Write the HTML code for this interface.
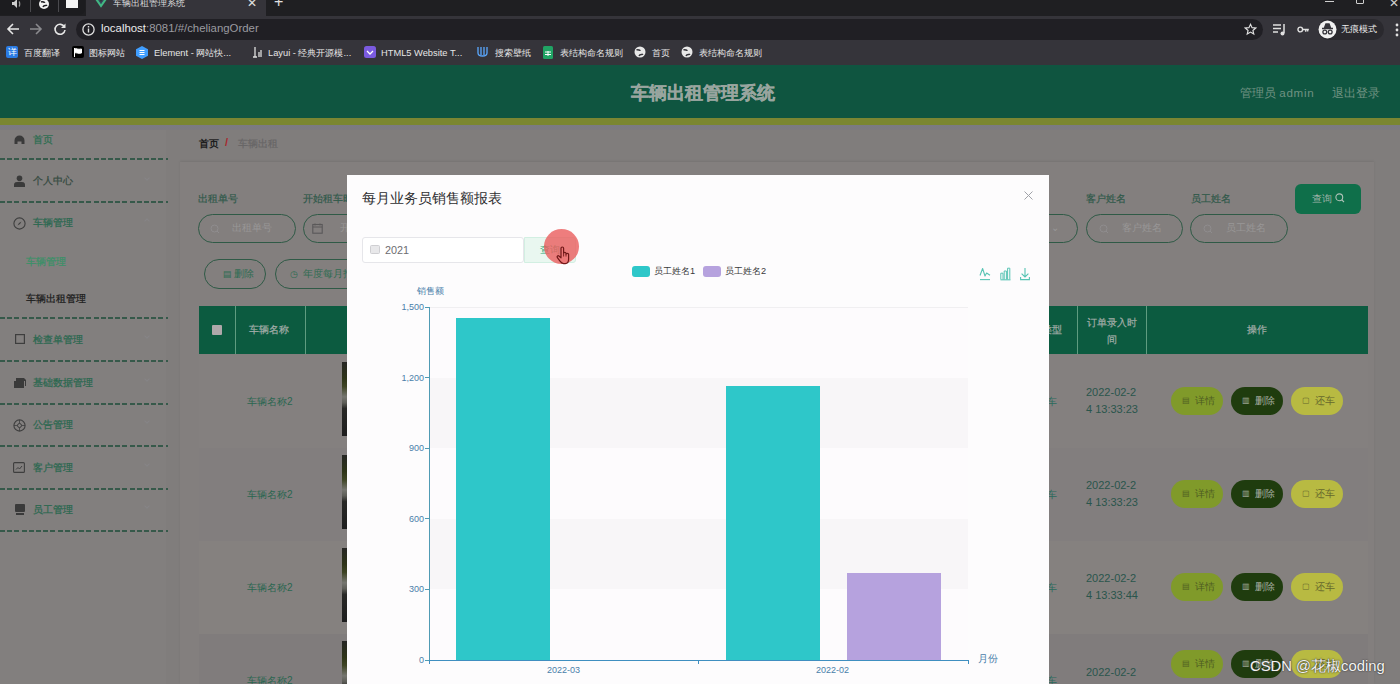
<!DOCTYPE html>
<html><head><meta charset="utf-8">
<style>
*{margin:0;padding:0;box-sizing:border-box}
html,body{width:1400px;height:684px;overflow:hidden;background:#807d7c;font-family:"Liberation Sans",sans-serif}
.a{position:absolute;white-space:nowrap}
#tabs{position:absolute;left:0;top:0;width:1400px;height:16px;background:#1f1f22}
#tool{position:absolute;left:0;top:16px;width:1400px;height:49px;background:#35343a}
#omni{position:absolute;left:76px;top:19px;width:1187px;height:21px;border-radius:11px;background:#201f24}
#hdr{position:absolute;left:0;top:65px;width:1400px;height:53px;background:#0f5540}
#hline{position:absolute;left:0;top:118px;width:1400px;height:7px;background:#7a8632}
#side{position:absolute;left:0;top:125px;width:166px;height:559px;background:#827f7e}
.dash{position:absolute;left:0;width:168px;height:2px;background:repeating-linear-gradient(90deg,#36594a 0 5px,transparent 5px 7.2px)}
.chev{position:absolute;left:145px;width:4px;height:4px;border-right:1px solid #878587;border-bottom:1px solid #878587;transform:rotate(45deg)}
.chev.up{transform:rotate(-135deg)}
.bm{top:47.5px;font-size:9.3px;line-height:11px;color:#e6e6e6}
.lbl{position:absolute;top:193px;font-size:10px;line-height:12px;color:#30594a;-webkit-text-stroke:0.2px currentColor;white-space:nowrap}
.inp{position:absolute;top:214px;height:29px;border:1.3px solid #2f5a46;border-radius:15px}
.inp .ph{position:absolute;top:7px;font-size:10px;line-height:12px;color:#999797;white-space:nowrap}
.inp .ico{position:absolute;left:11px;top:9px}
.btn2{position:absolute;top:259px;height:30px;border:1.3px solid #2f5a46;border-radius:15px;font-size:10px;line-height:28px;color:#2f6c52;white-space:nowrap}
.vl{position:absolute;top:306px;width:1px;height:48px;background:#5f9c80}
.th{position:absolute;font-size:10px;line-height:12px;color:#a2ada8;white-space:nowrap;-webkit-text-stroke:0.2px currentColor}
.td{position:absolute;font-size:10px;line-height:12px;color:#2c6a5c;white-space:nowrap}
.ob{position:absolute;width:52px;height:28px;border-radius:14px;font-size:9.5px;line-height:28px;white-space:nowrap;padding-left:24px}
.ob .oi{position:absolute;left:11px;font-size:8px}
.lg{top:265px;font-size:9.2px;line-height:12px;color:#3a3a3a}
.ax{font-size:9px;line-height:12px;color:#4a80aa;white-space:nowrap}
.mi{position:absolute;left:33px;font-size:10px;line-height:12px;white-space:nowrap;-webkit-text-stroke:0.25px currentColor}
</style></head><body>
<div id="tabs">
 <div class="a" style="left:0;top:0;width:85px;height:15px;background:#1c1c1f;border-radius:0 0 6px 0"></div>
 <svg class="a" style="left:12px;top:0" width="10" height="8" viewBox="0 0 10 8"><path d="M0 2h2l3-3v9l-3-3H0z" fill="#cfcfcf"/><path d="M7 1.5c1 1 1 4 0 5" stroke="#9a9a9a" stroke-width="1.2" fill="none"/></svg>
 <div class="a" style="left:30px;top:0;width:1px;height:12px;background:#4a4a4e"></div>
 <svg class="a" style="left:38px;top:-2px" width="12" height="12" viewBox="0 0 12 12"><circle cx="6" cy="6" r="5" fill="#f2f2f2"/><path d="M3 4c2-1 3 1 4 0M5 9c1-2 3-1 4-2" stroke="#1c1c1f" stroke-width="1.6" fill="none"/></svg>
 <div class="a" style="left:58px;top:0;width:1px;height:12px;background:#4a4a4e"></div>
 <div class="a" style="left:66px;top:0;width:12px;height:8px;background:#f3f3f3"></div>
 <div class="a" style="left:86px;top:0;width:180px;height:16px;background:#35343a;border-radius:0 0 0 0"></div>
 <svg class="a" style="left:95px;top:-1px" width="12" height="9" viewBox="0 0 14 10"><path d="M0 0h4l3 5 3-5h4L7 10z" fill="#41b883"/><path d="M3 0h2l2 3.5L9 0h2L7 6z" fill="#35495e"/></svg>
 <div class="a" style="left:113px;top:-3px;font-size:9px;color:#dcdcdc">车辆出租管理系统</div>
 <div class="a" style="left:247px;top:-4px;font-size:12px;color:#e0e0e0">✕</div>
 <div class="a" style="left:274px;top:-7px;font-size:16px;color:#e0e0e0">+</div>
 <div class="a" style="left:1325px;top:1px;width:9px;height:1px;background:#cfcfcf"></div>
 <div class="a" style="left:1356px;top:-2px;width:8px;height:6px;border:1px solid #cfcfcf;border-radius:0 0 1px 1px"></div>
 <div class="a" style="left:1389px;top:-4px;font-size:12px;color:#cfcfcf">✕</div>
</div>
<div id="tool"></div>
<div id="omni"></div>
<svg class="a" style="left:6px;top:22px" width="14" height="14" viewBox="0 0 14 14"><path d="M13 7H2M7 2L2 7l5 5" stroke="#e6e6e6" stroke-width="1.6" fill="none"/></svg>
<svg class="a" style="left:29px;top:22px" width="14" height="14" viewBox="0 0 14 14"><path d="M1 7h11M7 2l5 5-5 5" stroke="#8a8a8e" stroke-width="1.6" fill="none"/></svg>
<svg class="a" style="left:53px;top:22px" width="14" height="14" viewBox="0 0 14 14"><path d="M11.5 5A5 5 0 1 0 12 8" stroke="#e6e6e6" stroke-width="1.6" fill="none"/><path d="M12.5 1.5v4.5H8z" fill="#e6e6e6"/></svg>
<svg class="a" style="left:82px;top:23px" width="13" height="13" viewBox="0 0 13 13"><circle cx="6.5" cy="6.5" r="5.6" stroke="#e0e0e0" stroke-width="1.3" fill="none"/><rect x="5.8" y="5.5" width="1.4" height="4" fill="#e0e0e0"/><rect x="5.8" y="3" width="1.4" height="1.5" fill="#e0e0e0"/></svg>
<div class="a" style="left:101px;top:22px;font-size:11.4px;color:#9b9ba0"><span style="color:#ececec">localhost</span>:8081/#/cheliangOrder</div>
<svg class="a" style="left:1244px;top:23px" width="13" height="13" viewBox="0 0 15 15"><path d="M7.5 1.5l1.8 3.9 4.2.4-3.2 2.8 1 4.1-3.8-2.2-3.8 2.2 1-4.1L1.5 5.8l4.2-.4z" stroke="#e0e0e0" stroke-width="1.3" fill="none"/></svg>
<svg class="a" style="left:1273px;top:23px" width="14" height="13" viewBox="0 0 14 13"><path d="M0 2h8M0 5.5h8M0 9h5" stroke="#e0e0e0" stroke-width="1.5"/><path d="M11 1v9" stroke="#e0e0e0" stroke-width="1.5"/><circle cx="9.5" cy="10.5" r="2" fill="#e0e0e0"/></svg>
<svg class="a" style="left:1297px;top:26px" width="12" height="7" viewBox="0 0 15 9"><circle cx="4" cy="4.5" r="3" stroke="#e0e0e0" stroke-width="1.8" fill="none"/><path d="M7 4.5h8M11 4.5v3M13.5 4.5v2.5" stroke="#e0e0e0" stroke-width="1.8"/></svg>
<div class="a" style="left:1318px;top:19px;width:66px;height:21px;border-radius:11px;background:#2a292e"></div>
<svg class="a" style="left:1318px;top:20px" width="19" height="19" viewBox="0 0 19 19"><circle cx="9.5" cy="9.5" r="9" fill="#f0f0f0"/><path d="M4 8.5h11M6.5 8L8 4h3l1.5 4" stroke="#35343a" stroke-width="1.5" fill="#35343a"/><circle cx="6.8" cy="12" r="1.9" stroke="#35343a" stroke-width="1.3" fill="none"/><circle cx="12.2" cy="12" r="1.9" stroke="#35343a" stroke-width="1.3" fill="none"/></svg>
<div class="a" style="left:1341px;top:23px;font-size:9px;color:#ececec">无痕模式</div>
<svg class="a" style="left:1395px;top:23px" width="4" height="14" viewBox="0 0 4 14"><circle cx="2" cy="2" r="1.4" fill="#e0e0e0"/><circle cx="2" cy="7" r="1.4" fill="#e0e0e0"/><circle cx="2" cy="12" r="1.4" fill="#e0e0e0"/></svg>
<!-- bookmarks -->
<div class="a" style="left:6px;top:46px;width:12px;height:12px;background:#2a7be4;border-radius:2px;color:#fff;font-size:9px;line-height:12px;text-align:center">详</div>
<div class="a bm" style="left:24px">百度翻译</div>
<svg class="a" style="left:72px;top:46px" width="12" height="12" viewBox="0 0 12 12"><rect width="12" height="12" rx="2" fill="#000"/><path d="M2.5 2v9M2.5 3c2-1 3 1 7 0v4c-4 1-5-1-7 0" fill="#fff" stroke="#fff" stroke-width="1"/></svg>
<div class="a bm" style="left:89px">图标网站</div>
<svg class="a" style="left:136px;top:46px" width="12" height="13" viewBox="0 0 12 13"><path d="M6 0l6 3.2v6.6L6 13 0 9.8V3.2z" fill="#409eff"/><path d="M3.5 4.5h5M3.5 6.5h5M3.5 8.5h5" stroke="#fff" stroke-width="1"/></svg>
<div class="a bm" style="left:154px">Element - 网站快...</div>
<svg class="a" style="left:252px;top:46px" width="11" height="12" viewBox="0 0 11 12"><path d="M3 1v10M1 11h4M7 6v5M9 4v7" stroke="#ddd" stroke-width="1.3"/></svg>
<div class="a bm" style="left:268px">Layui - 经典开源模...</div>
<svg class="a" style="left:364px;top:46px" width="12" height="12" viewBox="0 0 12 12"><rect width="12" height="12" rx="2.5" fill="#7b5be0"/><path d="M3 5l3 3 3-3" stroke="#fff" stroke-width="1.3" fill="none"/></svg>
<div class="a bm" style="left:381px">HTML5 Website T...</div>
<svg class="a" style="left:477px;top:46px" width="11" height="12" viewBox="0 0 11 12"><path d="M1 1v6c0 4 9 4 9 0V1M4 1v8M7 1v8" stroke="#5aa8ff" stroke-width="1.3" fill="none"/></svg>
<div class="a bm" style="left:495px">搜索壁纸</div>
<svg class="a" style="left:543px;top:46px" width="10" height="13" viewBox="0 0 10 13"><rect width="10" height="13" rx="1.5" fill="#20a464"/><path d="M2 6h6M2 8.5h6M5 5v5" stroke="#fff" stroke-width="1"/></svg>
<div class="a bm" style="left:560px">表结构命名规则</div>
<svg class="a" style="left:634px;top:46px" width="12" height="12" viewBox="0 0 12 12"><circle cx="6" cy="6" r="5.5" fill="#e8e8e8"/><path d="M2.5 4c2-1 3 1 4 0M5 10c1-2 3-1 4-2" stroke="#35343a" stroke-width="1.5" fill="none"/></svg>
<div class="a bm" style="left:652px">首页</div>
<svg class="a" style="left:681px;top:46px" width="12" height="12" viewBox="0 0 12 12"><circle cx="6" cy="6" r="5.5" fill="#e8e8e8"/><path d="M2.5 4c2-1 3 1 4 0M5 10c1-2 3-1 4-2" stroke="#35343a" stroke-width="1.5" fill="none"/></svg>
<div class="a bm" style="left:699px">表结构命名规则</div>
<div id="hdr">
 <div class="a" style="left:631px;top:16px;font-size:18px;font-weight:bold;color:#98a59f;-webkit-text-stroke:0.3px #98a59f">车辆出租管理系统</div>
 <div class="a" style="left:1240px;top:21px;font-size:11.6px;color:#6f9282">管理员 <span style="letter-spacing:0.7px">admin</span></div>
 <div class="a" style="left:1332px;top:21px;font-size:11.6px;color:#6f9282">退出登录</div>
</div>
<div id="hline"></div>
<div id="side">
 <svg class="a" style="left:14px;top:10px" width="11" height="9" viewBox="0 0 11 9"><path d="M0.5 9V5.5A5 5 0 0 1 10.5 5.5V9H7.5V6.5H3.5V9z" fill="#3a3a3a"/></svg>
 <div class="mi" style="top:9px;color:#2f6e52">首页</div>
 <div class="dash" style="top:33px"></div>
 <svg class="a" style="left:14px;top:50px" width="11" height="12" viewBox="0 0 11 12"><circle cx="5.5" cy="3.2" r="2.8" fill="#3a3a3a"/><path d="M0 12V9.5C0 7.5 2 6.8 5.5 6.8S11 7.5 11 9.5V12z" fill="#3a3a3a"/></svg>
 <div class="mi" style="top:50px;color:#354a40">个人中心</div>
 <div class="chev" style="top:51px"></div>
 <div class="dash" style="top:76px"></div>
 <svg class="a" style="left:13px;top:92px" width="13" height="13" viewBox="0 0 13 13"><circle cx="6.5" cy="6.5" r="5.6" stroke="#3e3e3e" stroke-width="1.1" fill="none"/><path d="M8.5 4.5L7 7 4.5 8.5 6 6z" fill="#3e3e3e"/></svg>
 <div class="mi" style="top:92px;color:#2b6850">车辆管理</div>
 <div class="chev up" style="top:94px"></div>
 <div class="mi" style="left:26px;top:131px;color:#3b9068">车辆管理</div>
 <div class="mi" style="left:26px;top:168px;color:#1c1c1c">车辆出租管理</div>
 <div class="dash" style="top:192px"></div>
 <svg class="a" style="left:15px;top:209px" width="10" height="10" viewBox="0 0 10 10"><rect x="0.6" y="0.6" width="8.8" height="8.8" stroke="#3e3e3e" stroke-width="1.2" fill="none"/></svg>
 <div class="mi" style="top:209px;color:#2b6850">检查单管理</div>
 <div class="chev" style="top:209px"></div>
 <div class="dash" style="top:235px"></div>
 <svg class="a" style="left:14px;top:253px" width="12" height="10" viewBox="0 0 12 10"><path d="M0 3h10v7H0zM2 0h8l2 2v6h-1V3H2z" fill="#3a3a3a"/></svg>
 <div class="mi" style="top:252px;color:#2b6850">基础数据管理</div>
 <div class="chev" style="top:252px"></div>
 <div class="dash" style="top:278px"></div>
 <svg class="a" style="left:13px;top:294px" width="13" height="13" viewBox="0 0 13 13"><circle cx="6.5" cy="6.5" r="5.6" stroke="#3e3e3e" stroke-width="1.1" fill="none"/><circle cx="6.5" cy="6.5" r="2" stroke="#3e3e3e" stroke-width="1" fill="none"/><path d="M6.5 1v3.5M6.5 8.5V12M1 6.5h3.5M8.5 6.5H12" stroke="#3e3e3e" stroke-width="0.8"/></svg>
 <div class="mi" style="top:294px;color:#2b6850">公告管理</div>
 <div class="chev" style="top:294px"></div>
 <div class="dash" style="top:320px"></div>
 <svg class="a" style="left:13px;top:337px" width="12" height="11" viewBox="0 0 12 11"><rect x="0.6" y="0.6" width="10.8" height="9.8" rx="1" stroke="#3e3e3e" stroke-width="1.1" fill="none"/><path d="M3 7.5l2-2 1.5 1.5L9 4" stroke="#3e3e3e" stroke-width="1" fill="none"/></svg>
 <div class="mi" style="top:337px;color:#2b6850">客户管理</div>
 <div class="chev" style="top:337px"></div>
 <div class="dash" style="top:363px"></div>
 <svg class="a" style="left:15px;top:379px" width="10" height="11" viewBox="0 0 10 11"><rect x="0" y="0" width="10" height="8" rx="1" fill="#3a3a3a"/><rect x="1" y="9" width="8" height="2" fill="#3a3a3a"/></svg>
 <div class="mi" style="top:379px;color:#2b6850">员工管理</div>
 <div class="chev" style="top:379px"></div>
 <div class="dash" style="top:405px"></div>
</div>
<!-- content -->
<div class="a" style="left:180px;top:162px;width:1194px;height:522px;background:#837f7e;box-shadow:0 -1px 2px rgba(0,0,0,0.08)"></div>
<div class="a" style="left:0;top:125px;width:1400px;height:5px;background:linear-gradient(#7a7a84,#7d7b7e)"></div>
<div class="a" style="left:199px;top:137px;font-size:10px;font-weight:bold;color:#1e1e1e">首页</div>
<div class="a" style="left:225px;top:136px;font-size:11px;font-weight:bold;color:#a8282e">/</div>
<div class="a" style="left:238px;top:137px;font-size:10px;color:#676566;-webkit-text-stroke:0.2px #676566">车辆出租</div>
<!-- form labels -->
<div class="lbl" style="left:198px">出租单号</div>
<div class="lbl" style="left:303px">开始租车时间</div>
<div class="lbl" style="left:1086px">客户姓名</div>
<div class="lbl" style="left:1191px">员工姓名</div>
<div class="inp" style="left:198px;width:98px"><svg class="ico" width="10" height="10" viewBox="0 0 10 10"><circle cx="4.5" cy="4.5" r="3.5" stroke="#8f8d8e" stroke-width="1" fill="none"/><path d="M7 7l2 2" stroke="#8f8d8e" stroke-width="1"/></svg><span class="ph" style="left:33px">出租单号</span></div>
<div class="inp" style="left:303px;width:98px"><svg class="ico" style="left:8px;top:8px" width="11" height="11" viewBox="0 0 11 11"><rect x="0.8" y="1.5" width="9.4" height="8.7" stroke="#5a5859" stroke-width="1.1" fill="none"/><path d="M0.8 4h9.4M3 0.5v2M8 0.5v2" stroke="#5a5859" stroke-width="1"/></svg><span class="ph" style="left:36px">开始租车时间</span></div>
<div class="inp" style="left:980px;width:98px"><span class="ph" style="left:70px">⌄</span></div>
<div class="inp" style="left:1086px;width:97px"><svg class="ico" style="left:12px" width="10" height="10" viewBox="0 0 10 10"><circle cx="4.5" cy="4.5" r="3.5" stroke="#8f8d8e" stroke-width="1" fill="none"/><path d="M7 7l2 2" stroke="#8f8d8e" stroke-width="1"/></svg><span class="ph" style="left:35px">客户姓名</span></div>
<div class="inp" style="left:1190px;width:98px"><svg class="ico" style="left:12px" width="10" height="10" viewBox="0 0 10 10"><circle cx="4.5" cy="4.5" r="3.5" stroke="#8f8d8e" stroke-width="1" fill="none"/><path d="M7 7l2 2" stroke="#8f8d8e" stroke-width="1"/></svg><span class="ph" style="left:35px">员工姓名</span></div>
<div class="a" style="left:1295px;top:184px;width:66px;height:30px;border-radius:6px;background:#0f6f4a;color:#9fb2a8;font-size:10px;line-height:30px;padding-left:17px">查询 <svg width="10" height="10" viewBox="0 0 10 10" style="vertical-align:-1px"><circle cx="4.3" cy="4.3" r="3.4" stroke="#b0c2b8" stroke-width="1.1" fill="none"/><path d="M6.8 6.8L9 9" stroke="#b0c2b8" stroke-width="1.1"/></svg></div>
<div class="btn2" style="left:204px;width:62px"><span style="position:absolute;left:18px;font-size:9px">▤</span><span style="position:absolute;left:29px">删除</span></div>
<div class="btn2" style="left:275px;width:120px"><span style="position:absolute;left:14px;font-size:9px">◷</span><span style="position:absolute;left:27px">年度每月报表</span></div>
<!-- table header -->
<div class="a" style="left:199px;top:306px;width:1169px;height:48px;background:#0c5b40"></div>
<div class="vl" style="left:235px"></div>
<div class="vl" style="left:305px"></div>
<div class="vl" style="left:1077px"></div>
<div class="vl" style="left:1146px"></div>
<div class="a" style="left:212px;top:325px;width:10px;height:10px;background:#aea8aa;border-radius:1px"></div>
<div class="th" style="left:249px;top:324px">车辆名称</div>
<div class="th" style="left:1022px;top:324px">车辆类型</div>
<div class="th" style="left:1085px;top:314px;line-height:17px;white-space:normal;width:54px;text-align:center">订单录入时间</div>
<div class="th" style="left:1247px;top:324px">操作</div>

<!--ROWS-->
<div class="a" style="left:199px;top:355px;width:1169px;height:93px;background:#84807f"></div>
<div class="a" style="left:199px;top:448px;width:1169px;height:93px;background:#827e7e"></div>
<div class="a" style="left:199px;top:541px;width:1169px;height:93px;background:#85817f"></div>
<div class="a" style="left:199px;top:634px;width:1169px;height:93px;background:#807c7c"></div>
<div class="td" style="left:247px;top:396px;color:#2a6650">车辆名称2</div>
<div class="a" style="left:342px;top:362px;width:6px;height:74px;background:linear-gradient(180deg,#262624 0%,#2e3418 22%,#3e4424 33%,#767670 47%,#5e5e58 55%,#282826 63%,#1e1e1e 100%)"></div>
<div class="td" style="left:1047px;top:396px">车</div>
<div class="td" style="left:1086px;top:384px;line-height:16.6px;font-size:11px;color:#2a554c">2022-02-2<br>4 13:33:23</div>
<div class="ob" style="left:1171px;top:387px;background:#809a2a;color:#4e5c22"><span class="oi">▤</span>详情</div>
<div class="ob" style="left:1231px;top:387px;background:#1f3c0e;color:#a4aca0"><span class="oi">▥</span>删除</div>
<div class="ob" style="left:1291px;top:387px;background:#b8ba42;color:#66682c"><span class="oi">▢</span>还车</div>
<div class="td" style="left:247px;top:489px;color:#2a6650">车辆名称2</div>
<div class="a" style="left:342px;top:455px;width:6px;height:74px;background:linear-gradient(180deg,#262624 0%,#2e3418 22%,#3e4424 33%,#767670 47%,#5e5e58 55%,#282826 63%,#1e1e1e 100%)"></div>
<div class="td" style="left:1047px;top:489px">车</div>
<div class="td" style="left:1086px;top:477px;line-height:16.6px;font-size:11px;color:#2a554c">2022-02-2<br>4 13:33:23</div>
<div class="ob" style="left:1171px;top:480px;background:#809a2a;color:#4e5c22"><span class="oi">▤</span>详情</div>
<div class="ob" style="left:1231px;top:480px;background:#1f3c0e;color:#a4aca0"><span class="oi">▥</span>删除</div>
<div class="ob" style="left:1291px;top:480px;background:#b8ba42;color:#66682c"><span class="oi">▢</span>还车</div>
<div class="td" style="left:247px;top:582px;color:#2a6650">车辆名称2</div>
<div class="a" style="left:342px;top:548px;width:6px;height:74px;background:linear-gradient(180deg,#262624 0%,#2e3418 22%,#3e4424 33%,#767670 47%,#5e5e58 55%,#282826 63%,#1e1e1e 100%)"></div>
<div class="td" style="left:1047px;top:582px">车</div>
<div class="td" style="left:1086px;top:570px;line-height:16.6px;font-size:11px;color:#2a554c">2022-02-2<br>4 13:33:44</div>
<div class="ob" style="left:1171px;top:573px;background:#809a2a;color:#4e5c22"><span class="oi">▤</span>详情</div>
<div class="ob" style="left:1231px;top:573px;background:#1f3c0e;color:#a4aca0"><span class="oi">▥</span>删除</div>
<div class="ob" style="left:1291px;top:573px;background:#b8ba42;color:#66682c"><span class="oi">▢</span>还车</div>
<div class="td" style="left:247px;top:675px;color:#2a6650">车辆名称2</div>
<div class="a" style="left:342px;top:641px;width:6px;height:74px;background:linear-gradient(180deg,#262624 0%,#2e3418 22%,#3e4424 33%,#767670 47%,#5e5e58 55%,#282826 63%,#1e1e1e 100%)"></div>
<div class="td" style="left:1047px;top:675px">车</div>
<div class="td" style="left:1086px;top:664px;line-height:16.6px;font-size:11px;color:#2a554c">2022-02-2<br>4 13:33:50</div>
<div class="ob" style="left:1171px;top:650px;background:#809a2a;color:#4e5c22"><span class="oi">▤</span>详情</div>
<div class="ob" style="left:1231px;top:650px;background:#1f3c0e;color:#a4aca0"><span class="oi">▥</span>删除</div>
<div class="ob" style="left:1291px;top:650px;background:#b8ba42;color:#66682c"><span class="oi">▢</span>还车</div>
<div class="a" style="left:1250px;top:657px;font-size:14.8px;line-height:18px;color:#f4f4f4;text-shadow:0 0 1px #333,0 0 2px #444">CSDN @花椒coding</div>
<!--/ROWS-->
<!-- modal -->
<div id="modal" class="a" style="left:347px;top:175px;width:702px;height:520px;background:#fdfcfd"></div>
<div class="a" style="left:362px;top:190px;font-size:13.8px;line-height:18px;color:#2e2e30">每月业务员销售额报表</div>
<svg class="a" style="left:1024px;top:191px" width="9" height="9" viewBox="0 0 9 9"><path d="M0.5 0.5l8 8M8.5 0.5l-8 8" stroke="#a0a2a8" stroke-width="1"/></svg>
<div class="a" style="left:362px;top:237px;width:162px;height:26px;border:1px solid #e6e6ea;border-radius:3px;background:#fff"></div>
<svg class="a" style="left:370px;top:245px" width="10" height="9" viewBox="0 0 10 9"><rect x="0.5" y="0.5" width="9" height="8" rx="1" fill="#e8e8ea" stroke="#cfcfd2"/></svg>
<div class="a" style="left:385px;top:243px;font-size:10.8px;line-height:14px;color:#6c6c70">2021</div>
<div class="a" style="left:524px;top:237px;width:52px;height:26px;border:1px solid #d2efe2;border-radius:0 3px 3px 0;background:#e9f7f0"></div>
<div class="a" style="left:540px;top:243px;font-size:10px;line-height:14px;color:#2ea878">查询</div>
<div class="a" style="left:544px;top:229px;width:35px;height:35px;border-radius:50%;background:rgba(234,96,96,0.82)"></div>
<svg class="a" style="left:555px;top:245px" width="17" height="20" viewBox="0 0 17 20"><path d="M6 3.2C6 1.6 8.6 1.6 8.6 3.2V8.2C8.6 7 11 7 11 8.2V9.2C11 8 13.6 8 13.6 9.2V14C13.6 17 12.2 18.6 10.3 18.6H8.6C7 18.6 6 17.6 5 16.2L2.4 12.6C1.6 11.5 2.8 10.2 3.9 11L6 12.8Z" fill="#ec7878" stroke="#701818" stroke-width="1.2" stroke-linejoin="round"/><path d="M8.6 8.2V11.5M11 9.2V11.5" stroke="#701818" stroke-width="0.9"/></svg>
<div class="a" style="left:632px;top:266px;width:18px;height:11px;border-radius:3px;background:#2ec7c9"></div>
<div class="a lg" style="left:654px">员工姓名1</div>
<div class="a" style="left:703px;top:266px;width:18px;height:11px;border-radius:3px;background:#b6a2de"></div>
<div class="a lg" style="left:725px">员工姓名2</div>
<svg class="a" style="left:979px;top:267px" width="12" height="14" viewBox="0 0 12 14"><path d="M1 8.5L3.6 1.5 6 9l1.6-3L11 8.3" stroke="#58c4b4" stroke-width="1.1" fill="none" stroke-linejoin="round"/><path d="M1 12.6h10" stroke="#58c4b4" stroke-width="1.1"/></svg>
<svg class="a" style="left:1000px;top:267px" width="11" height="14" viewBox="0 0 11 14"><path d="M0.8 12.4V6.2h2.2v6.2M4.2 12.4V4h2.2v8.4M7.6 12.4V1.2h2.2v11.2" stroke="#58c4b4" stroke-width="1" fill="none"/><path d="M0.5 12.8h10" stroke="#58c4b4" stroke-width="1.1"/></svg>
<svg class="a" style="left:1020px;top:267px" width="10" height="14" viewBox="0 0 10 14"><path d="M5 1v9M1.6 6.6L5 10l3.4-3.4" stroke="#58c4b4" stroke-width="1.1" fill="none"/><path d="M0.6 10v2.6h8.8V10" stroke="#58c4b4" stroke-width="1.1" fill="none"/></svg>
<div class="a ax" style="left:417px;top:285px">销售额</div>
<div class="a" style="left:429px;top:589.4px;width:539px;height:70.6px;background:#fdfbfd"></div>
<div class="a" style="left:429px;top:518.8px;width:539px;height:70.6px;background:#f8f6f8"></div>
<div class="a" style="left:429px;top:448.2px;width:539px;height:70.6px;background:#fdfbfd"></div>
<div class="a" style="left:429px;top:377.6px;width:539px;height:70.6px;background:#f8f6f8"></div>
<div class="a" style="left:429px;top:307.0px;width:539px;height:70.6px;background:#fdfbfd"></div>
<div class="a" style="left:429px;top:306.5px;width:539px;height:1px;background:#f0eff1"></div>
<div class="a" style="left:456px;top:318.1px;width:94px;height:341.9px;background:#2ec7c9"></div>
<div class="a" style="left:726px;top:386.1px;width:94px;height:273.9px;background:#2ec7c9"></div>
<div class="a" style="left:847px;top:572.9px;width:94px;height:87.1px;background:#b6a2de"></div>
<div class="a" style="left:428.5px;top:307px;width:1px;height:354px;background:#4f9bb4"></div>
<div class="a" style="left:429px;top:659.5px;width:540px;height:1px;background:#3f8fc0"></div>
<div class="a" style="left:425px;top:659.5px;width:4px;height:1px;background:#4f9bb4"></div>
<div class="a ax" style="right:976px;top:654.0px;text-align:right">0</div>
<div class="a" style="left:425px;top:588.9px;width:4px;height:1px;background:#4f9bb4"></div>
<div class="a ax" style="right:976px;top:583.4px;text-align:right">300</div>
<div class="a" style="left:425px;top:518.3px;width:4px;height:1px;background:#4f9bb4"></div>
<div class="a ax" style="right:976px;top:512.8px;text-align:right">600</div>
<div class="a" style="left:425px;top:447.7px;width:4px;height:1px;background:#4f9bb4"></div>
<div class="a ax" style="right:976px;top:442.2px;text-align:right">900</div>
<div class="a" style="left:425px;top:377.1px;width:4px;height:1px;background:#4f9bb4"></div>
<div class="a ax" style="right:976px;top:371.6px;text-align:right">1,200</div>
<div class="a" style="left:425px;top:306.5px;width:4px;height:1px;background:#4f9bb4"></div>
<div class="a ax" style="right:976px;top:301.0px;text-align:right">1,500</div>
<div class="a" style="left:428.5px;top:660px;width:1px;height:4px;background:#3f8fc0"></div>
<div class="a" style="left:698.0px;top:660px;width:1px;height:4px;background:#3f8fc0"></div>
<div class="a" style="left:967.5px;top:660px;width:1px;height:4px;background:#3f8fc0"></div>
<div class="a ax" style="left:547px;top:664px">2022-03</div>
<div class="a ax" style="left:816px;top:664px">2022-02</div>
<div class="a ax" style="left:978px;top:653px;font-size:10px">月份</div>
</body></html>
